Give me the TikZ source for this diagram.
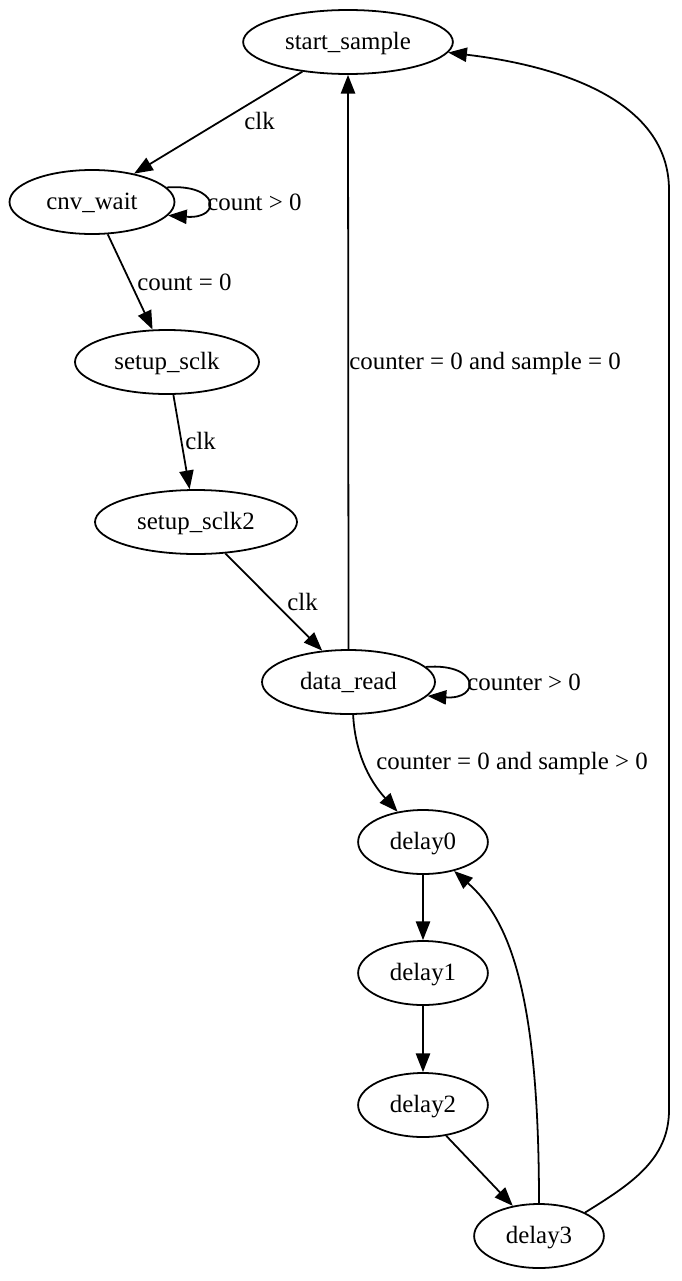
\documentclass[tikz,border=0pt]{standalone}
\usepackage{fontspec}
\setmainfont{Liberation Serif}
\usetikzlibrary{arrows.meta,shapes.geometric}
\begin{document}
\begin{tikzpicture}[x=0.5625pt,y=-0.5625pt,
  state/.style={draw,ellipse,line width=1pt,inner sep=0pt,minimum height=36pt,
    font=\fontsize{14}{17}\selectfont,text height=10.5pt,text depth=2.5pt},
  edge/.style={line width=1pt,-{Triangle[length=10.5pt,width=8pt]}},
  lbl/.style={inner sep=0pt,anchor=west,font=\fontsize{14}{17}\selectfont,
    text height=10.5pt,text depth=2.5pt}]
\useasboundingbox (0,0) rectangle (682,1281);

% states
\node[state,minimum width=118pt] (start) at (348,42) {start\_sample};
\node[state,minimum width=92.8pt] (cnv) at (92,202) {cnv\_wait};
\node[state,minimum width=103.5pt] (sclk) at (167,362) {setup\_sclk};
\node[state,minimum width=113.6pt] (sclktwo) at (196,522) {setup\_sclk2};
\node[state,minimum width=97.3pt] (read) at (348.5,682) {data\_read};
\node[state,minimum width=73pt] (dzero) at (423,842) {delay0};
\node[state,minimum width=73pt] (done) at (423,973) {delay1};
\node[state,minimum width=73pt] (dtwo) at (423,1105) {delay2};
\node[state,minimum width=73pt] (dthree) at (539,1236) {delay3};

% transitions
\draw[edge] (start.213) -- (cnv.34);
\draw[edge] (cnv.11) .. controls +(53,-4) and +(54,4) .. (cnv.-10);
\draw[edge] (cnv.-64) -- (sclk.114);
\draw[edge] (sclk.-79) -- (sclktwo.101);
\draw[edge] (sclktwo.-47) -- (read.130);
\draw[edge] (read.90) -- (start.-90);
\draw[edge] (read.11) .. controls +(54,-4) and +(53,4) .. (read.-10);
\draw[edge] (read.-82) .. controls +(2,36) and +(-30,-33) .. (dzero.130);
\draw[edge] (dzero.-90) -- (done.90);
\draw[edge] (done.-90) -- (dtwo.90);
\draw[edge] (dtwo.-53) -- (dthree.131);
\draw[edge] (dthree.90) .. controls +(0,-205) and +(57,50) .. (dzero.-43);

% long way back to start_sample
\coordinate (rbot) at (669,1110);
\coordinate (rtop) at (669,190);
\draw[edge] (dthree.27) .. controls +(45,-28) and +(0,50) .. (rbot) -- (rtop)
  .. controls +(0,-90) and +(110,13) .. (start.-6);

% labels
\node[lbl] (lclka) at (244,122) {clk};
\node[lbl] (lcntpos) at (207,203) {count > 0};
\node[lbl] (lcntzero) at (137,283) {count = 0};
\node[lbl] (lclkb) at (185,442) {clk};
\node[lbl] (lclkc) at (287,603) {clk};
\node[lbl] (lback) at (349,362) {counter = 0 and sample = 0};
\node[lbl] (lctrpos) at (467,683) {counter > 0};
\node[lbl] (ldelay) at (376,762) {counter = 0 and sample > 0};
\end{tikzpicture}
\end{document}
